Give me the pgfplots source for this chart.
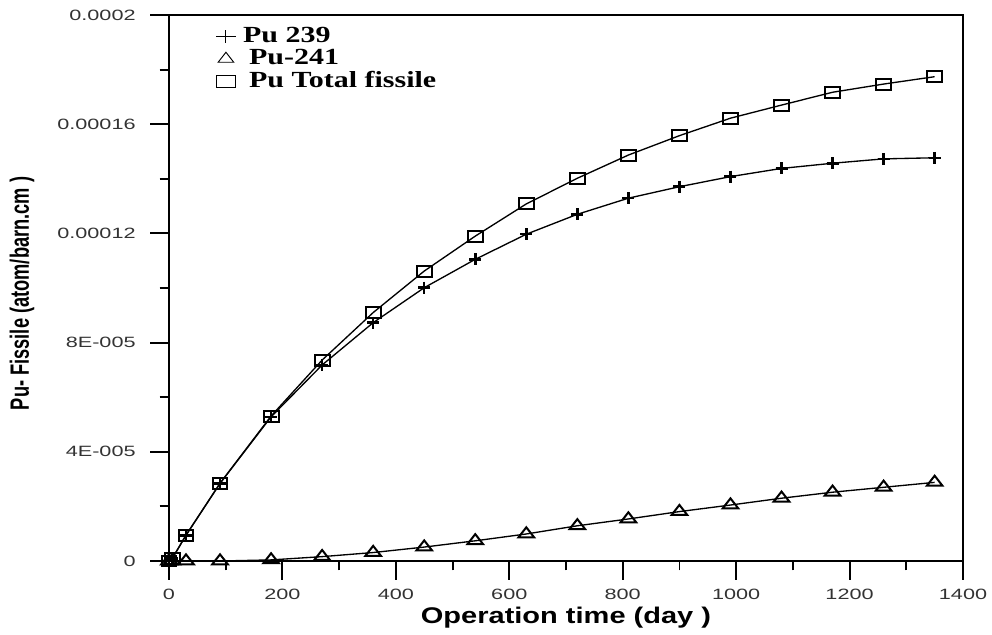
\documentclass[border=0pt]{standalone}
\usepackage{pgfplots}
\pgfplotsset{compat=1.18}
\usepackage{fontspec}
\setmainfont{Liberation Sans}
\newfontfamily\tickfont[FakeStretch=1.45]{Liberation Sans}
\newfontfamily\labfont[FakeStretch=1.28]{Liberation Sans}
\newfontfamily\legfont[FakeStretch=1.3]{Liberation Serif}

\begin{document}
\begin{tikzpicture}
\useasboundingbox (-126.75pt,-55.5pt) rectangle (617.25pt,420.75pt);
\begin{axis}[
  scale only axis, width=595.5pt, height=409.5pt,
  xmin=0, xmax=1400, ymin=0, ymax=0.0002,
  xtick={0,200,400,600,800,1000,1200,1400},
  xticklabels={0,200,400,600,800,1000,1200,1400},
  ytick={0,0.00004,0.00008,0.00012,0.00016,0.0002},
  yticklabels={0,4E-005,8E-005,0.00012,0.00016,0.0002},
  scaled y ticks=false, scaled x ticks=false,
  minor x tick num=1, minor y tick num=1,
  tick align=outside, xtick pos=bottom, ytick pos=left,
  major tick length=14pt, minor tick length=7pt,
  axis line style={line width=1.4pt},
  every tick/.style={black, line width=1.4pt},
  tick label style={font=\tickfont\fontsize{11.2}{13}\selectfont, text=black!80},
  xticklabel style={yshift=-3.5pt},
  yticklabel style={xshift=-7.5pt},
  clip=false,
  xlabel={Operation time (day )},
  ylabel={\scalebox{1}[1.45]{Pu- Fissile (atom/barn.cm )}},
  xlabel style={font=\labfont\bfseries\fontsize{17}{20}\selectfont, at={(axis description cs:0.5,0)}, anchor=north, yshift=-34pt, inner sep=0pt},
  ylabel style={font=\bfseries\fontsize{13.7}{16}\selectfont, at={(axis description cs:-0.185,0.49)}, anchor=center},
  legend style={draw=none, fill=none, at={(axis description cs:0.054,0.985)}, anchor=north west,
    font=\legfont\bfseries\fontsize{17.3}{19}\selectfont,
    nodes={inner sep=0pt, text height=12.5pt, text depth=3.5pt}, row sep=0.6pt},
  legend cell align=left,
]
\addlegendimage{only marks, black, mark=+, mark size=4.9pt, mark options={line width=0.7pt, xscale=1.5}}
\addlegendentry{\hspace{5.5pt}Pu 239}
\addlegendimage{only marks, black, mark=triangle, mark size=5pt, mark options={line width=0.7pt, xscale=1.35}}
\addlegendentry{\hspace{10pt}Pu-241}
\addlegendimage{only marks, black, mark=square, mark size=4.5pt, mark options={line width=0.7pt, xscale=1.55}}
\addlegendentry{\hspace{10pt}Pu Total fissile}

% Pu 239
\addplot[black, line width=1pt, mark=+, mark size=4.5pt, mark options={line width=1.9pt}, forget plot] coordinates {
(0,0) (6,1.0e-6) (30,9.4e-6) (90,2.84e-5) (180,5.28e-5) (270,7.18e-5) (360,8.73e-5)
(450,1.001e-4) (540,1.105e-4) (630,1.197e-4) (720,1.270e-4) (810,1.329e-4) (900,1.371e-4)
(990,1.408e-4) (1080,1.438e-4) (1170,1.457e-4) (1260,1.473e-4) (1350,1.477e-4)
};
% Pu-241
\addplot[black, line width=1pt, mark=triangle, mark size=5pt, mark options={line width=1.5pt, xscale=1.35}, forget plot] coordinates {
(0,0) (6,0) (30,0) (90,0) (180,0.4e-6) (270,1.6e-6) (360,3.1e-6)
(450,5.1e-6) (540,7.4e-6) (630,9.9e-6) (720,1.29e-5) (810,1.54e-5) (900,1.81e-5)
(990,2.05e-5) (1080,2.30e-5) (1170,2.52e-5) (1260,2.70e-5) (1350,2.88e-5)
};
% Pu total fissile
\addplot[black, line width=1pt, mark=square, mark size=4.1pt, mark options={line width=1.5pt, xscale=1.36}, forget plot] coordinates {
(0,0) (6,1.0e-6) (30,9.5e-6) (90,2.85e-5) (180,5.31e-5) (270,7.36e-5) (360,9.10e-5)
(450,1.062e-4) (540,1.190e-4) (630,1.308e-4) (720,1.402e-4) (810,1.487e-4) (900,1.558e-4)
(990,1.622e-4) (1080,1.670e-4) (1170,1.717e-4) (1260,1.747e-4) (1350,1.774e-4)
};
\end{axis}
\end{tikzpicture}
\end{document}
